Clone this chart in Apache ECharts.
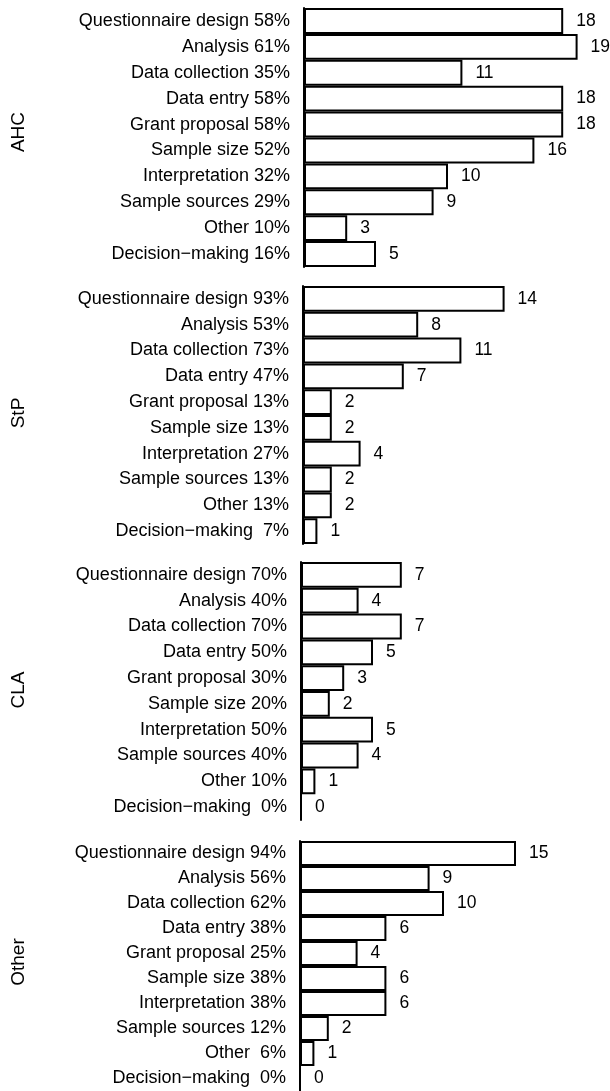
<!DOCTYPE html>
<html>
<head>
<meta charset="utf-8">
<script src="https://cdn.jsdelivr.net/npm/echarts@6/dist/echarts.min.js"></script>
<style>
html,body{margin:0;padding:0;background:#fff;}
#c{width:610px;height:1091px;}
</style>
</head>
<body>
<div id="c"></div>
<script>
var categories = ['Questionnaire design','Analysis','Data collection','Data entry','Grant proposal','Sample size','Interpretation','Sample sources','Other','Decision\u2212making'];
var groups = ['AHC','StP','CLA','Other'];

var ahcCounts = [18,19,11,18,18,16,10,9,3,5];
var ahcPct    = [58,61,35,58,58,52,32,29,10,16];
var stpCounts = [14,8,11,7,2,2,4,2,2,1];
var stpPct    = [93,53,73,47,13,13,27,13,13,7];
var claCounts = [7,4,7,5,3,2,5,4,1,0];
var claPct    = [70,40,70,50,30,20,50,40,10,0];
var othCounts = [15,9,10,6,4,6,6,2,1,0];
var othPct    = [94,56,62,38,25,38,38,12,6,0];

var counts = [ahcCounts, stpCounts, claCounts, othCounts];
var pcts = [ahcPct, stpPct, claPct, othPct];

var gridLefts = [304, 303, 301, 300];
var gridTops = [8, 286, 562, 841];
var gridHeights = [259, 258, 258, 258];
var titleY = [132, 413, 690, 962];

var FONT = 'Liberation Sans, Arial, Helvetica, sans-serif';

function labelsFor(p){
  return categories.map(function(c,i){
    var v = p[i];
    return c + (v < 10 ? '  ' : ' ') + v + '%';
  });
}

var grids=[], xAxes=[], yAxes=[], series=[], graphics=[];
for (var g=0; g<4; g++){
  grids.push({left: gridLefts[g], top: gridTops[g], height: gridHeights[g], width: 288, containLabel:false});
  xAxes.push({type:'value', gridIndex:g, min:0, max:20, show:false, splitLine:{show:false}});
  yAxes.push({type:'category', gridIndex:g, inverse:true, data: labelsFor(pcts[g]),
    axisLine:{show:true, lineStyle:{color:'#000', width:2}},
    axisTick:{show:false},
    axisLabel:{color:'#000', fontSize:18, fontFamily:FONT, margin:14},
    splitLine:{show:false}
  });
  series.push({type:'bar', xAxisIndex:g, yAxisIndex:g, data: counts[g],
    barWidth:'100%',
    itemStyle:{color:'#fff', borderColor:'#000', borderWidth:2},
    label:{show:true, position:'right', distance:13, color:'#000', fontSize:17.5, fontFamily:FONT},
    silent:true, animation:false
  });
  graphics.push({type:'text', x:19, y:titleY[g], rotation:Math.PI/2,
    style:{text:groups[g], font:'19px ' + FONT, fill:'#000', textAlign:'center', textVerticalAlign:'middle'}});
}

var chart = echarts.init(document.getElementById('c'), null, {renderer:'canvas'});
chart.setOption({
  backgroundColor:'#fff',
  animation:false,
  grid:grids, xAxis:xAxes, yAxis:yAxes, series:series,
  graphic:graphics
});
</script>
</body>
</html>
